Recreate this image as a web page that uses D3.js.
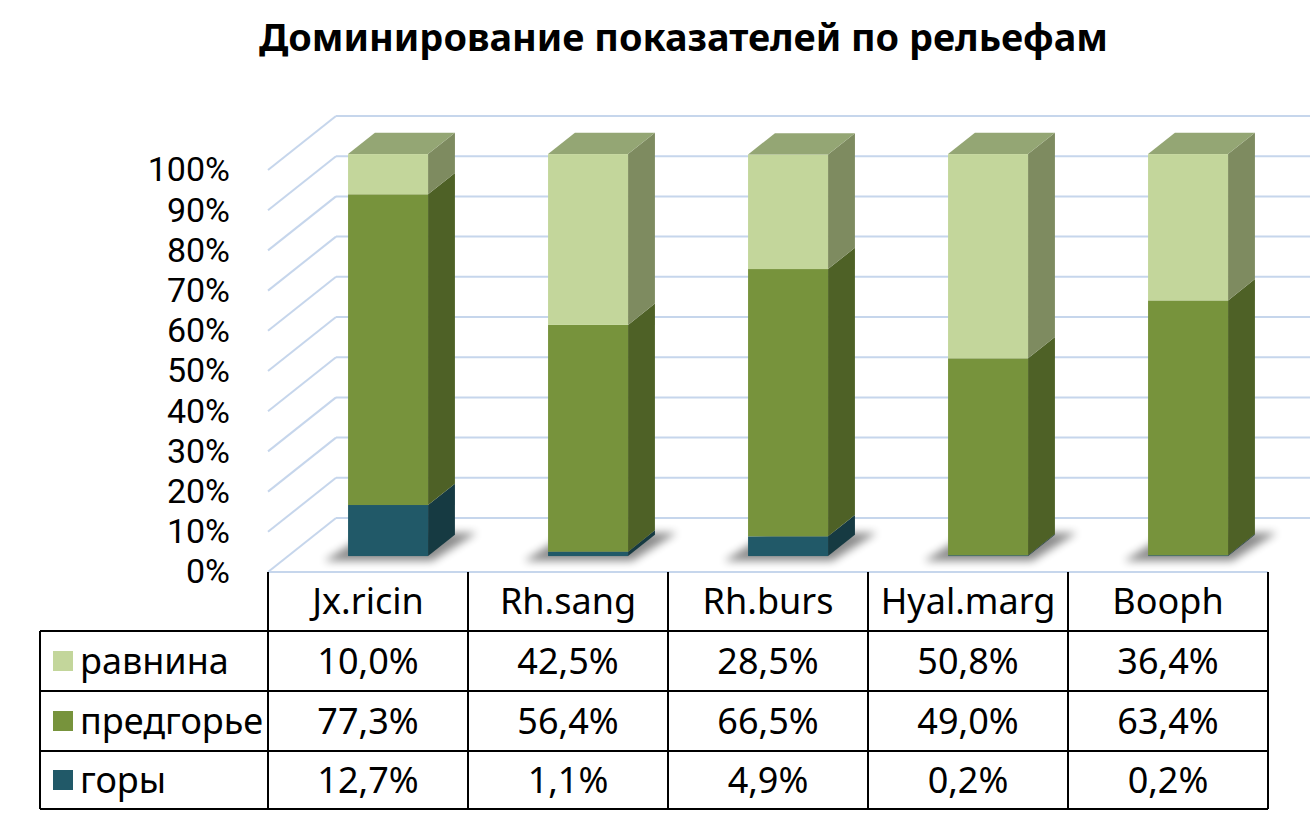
<!DOCTYPE html>
<html>
<head>
<meta charset="utf-8">
<script src="https://cdn.jsdelivr.net/npm/d3@7"></script>
<style>
  body { margin: 0; background: #fff; }
  svg { display: block; font-family: "Noto Sans", "Open Sans", sans-serif; }
</style>
</head>
<body>
<div id="chart"></div>
<script>
const title = 'Доминирование показателей по рельефам';
const categories = ['Jx.ricin', 'Rh.sang', 'Rh.burs', 'Hyal.marg', 'Booph'];
const seriesKeys = ['plain', 'foothill', 'mountains'];
const seriesNames = ['равнина', 'предгорье', 'горы'];
const plain = [10.0, 42.5, 28.5, 50.8, 36.4];
const foothill = [77.3, 56.4, 66.5, 49.0, 63.4];
const mountains = [12.7, 1.1, 4.9, 0.2, 0.2];
const yTicks = [0, 10, 20, 30, 40, 50, 60, 70, 80, 90, 100];

const width = 1310;
const height = 824;

// face colours: front, side, top
const colors = {
  plain: { front: '#c3d69b', side: '#7e8b60', top: '#94a674' },
  foothill: { front: '#77933c', side: '#4e6126', top: '#5f7a30' },
  mountains: { front: '#215968', side: '#163a42', top: '#1b4a56' },
};

const rows = categories.map((c, i) => ({
  cat: c, plain: plain[i], foothill: foothill[i], mountains: mountains[i],
}));

const x = d3.scaleBand().domain(categories).range([268, 1268]);
const y = d3.scaleLinear().domain([0, 100]).range([572, 170]);

// 3d projection: depth z (0 front plane .. 1 back wall)
const wall = { dx: 68, dy: -54 };
const off = (z) => [wall.dx * z, wall.dy * z];
const barZ0 = 0.295;
const barZ1 = 0.69;
const barW = 80;

const fmt = (v) => d3.format('.1f')(v).replace('.', ',') + '%';

const svg = d3.select('#chart')
  .append('svg')
  .attr('width', width)
  .attr('height', height);

const defs = svg.append('defs');
defs.append('filter')
  .attr('id', 'blur')
  .attr('x', '-50%').attr('y', '-50%')
  .attr('width', '200%').attr('height', '200%')
  .append('feGaussianBlur')
  .attr('stdDeviation', 4);

// title
svg.append('text')
  .attr('x', 259)
  .attr('y', 51)
  .attr('font-size', 38)
  .attr('font-weight', 'bold')
  .attr('fill', '#000')
  .attr('textLength', 849)
  .attr('lengthAdjust', 'spacingAndGlyphs')
  .text(title);

// walls / gridlines
const grid = svg.append('g')
  .attr('stroke', '#c6d6ec')
  .attr('stroke-width', 2)
  .attr('fill', 'none');

const [bx, by] = off(1);
grid.selectAll('.back')
  .data(yTicks)
  .join('line')
  .attr('x1', x.range()[0] + bx)
  .attr('x2', width)
  .attr('y1', (d) => y(d) + by)
  .attr('y2', (d) => y(d) + by);

grid.selectAll('.side')
  .data(yTicks)
  .join('line')
  .attr('x1', x.range()[0])
  .attr('x2', x.range()[0] + bx)
  .attr('y1', (d) => y(d))
  .attr('y2', (d) => y(d) + by);

grid.append('line')
  .attr('x1', x.range()[0])
  .attr('x2', x.range()[1])
  .attr('y1', y(0))
  .attr('y2', y(0));

// y axis
const yAxis = svg.append('g')
  .attr('transform', 'translate(230,0)')
  .call(d3.axisLeft(y)
    .tickValues(yTicks)
    .tickFormat((d) => d + '%')
    .tickSize(0)
    .tickPadding(0));
yAxis.select('.domain').remove();
yAxis.selectAll('text')
  .attr('font-size', 34)
  .attr('font-family', 'Roboto, sans-serif')
  .attr('fill', '#000');

// bars
const stack = d3.stack().keys(['mountains', 'foothill', 'plain']);
const series = stack(rows);

const [f0x, f0y] = off(barZ0);
const [f1x, f1y] = off(barZ1);
const ddx = f1x - f0x;
const ddy = f1y - f0y;

const barLeft = (c) => x(c) + x.bandwidth() / 2 - barW / 2 + f0x;

// shadows
svg.append('g')
  .selectAll('path')
  .data(categories)
  .join('path')
  .attr('filter', 'url(#blur)')
  .attr('fill', '#000')
  .attr('opacity', 0.45)
  .attr('d', (c) => {
    const xl = barLeft(c);
    const xr = xl + barW;
    const yb = y(0) + f0y;
    return `M${xl - 24},${yb + 5}L${xr + 4},${yb + 5}L${xr + ddx + 22},${yb + ddy - 2}`
      + `L${xl + ddx - 6},${yb + ddy - 2}Z`;
  });

const barG = svg.append('g');
series.forEach((s) => {
  const key = s.key;
  const g = barG.append('g');
  // right side
  g.selectAll('.side')
    .data(s)
    .join('path')
    .attr('fill', colors[key].side)
    .attr('d', (d) => {
      const xr = barLeft(d.data.cat) + barW;
      const yt = y(d[1]) + f0y;
      const yb = y(d[0]) + f0y;
      return `M${xr},${yb}L${xr + ddx},${yb + ddy}L${xr + ddx},${yt + ddy}L${xr},${yt}Z`;
    });
  // front
  g.selectAll('.front')
    .data(s)
    .join('rect')
    .attr('fill', colors[key].front)
    .attr('x', (d) => barLeft(d.data.cat))
    .attr('width', barW)
    .attr('y', (d) => y(d[1]) + f0y)
    .attr('height', (d) => y(d[0]) - y(d[1]));
});

// top face of each stacked bar
const topSeries = series[series.length - 1];
barG.append('g')
  .selectAll('path')
  .data(topSeries)
  .join('path')
  .attr('fill', colors[topSeries.key].top)
  .attr('d', (d) => {
    const xl = barLeft(d.data.cat);
    const yt = y(d[1]) + f0y;
    return `M${xl},${yt}L${xl + barW},${yt}L${xl + barW + ddx},${yt + ddy}L${xl + ddx},${yt + ddy}Z`;
  });

// data table
const rowTops = [572, 631, 691, 751, 809];
const tableLeft = 40;
const table = svg.append('g')
  .attr('stroke', '#000')
  .attr('stroke-width', 2);

table.selectAll('.h')
  .data(rowTops.slice(1))
  .join('line')
  .attr('x1', tableLeft)
  .attr('x2', x.range()[1])
  .attr('y1', (d) => d)
  .attr('y2', (d) => d);

const colEdges = categories.map((c) => x(c)).concat([x.range()[1]]);
table.selectAll('.v')
  .data(colEdges)
  .join('line')
  .attr('x1', (d) => d)
  .attr('x2', (d) => d)
  .attr('y1', rowTops[0])
  .attr('y2', rowTops[4]);

table.append('line')
  .attr('x1', tableLeft)
  .attr('x2', tableLeft)
  .attr('y1', rowTops[1])
  .attr('y2', rowTops[4]);

const txt = svg.append('g')
  .attr('font-size', 36)
  .attr('fill', '#000');

// header
txt.selectAll('.cat')
  .data(categories)
  .join('text')
  .attr('x', (c) => x(c) + x.bandwidth() / 2)
  .attr('y', (rowTops[0] + rowTops[1]) / 2)
  .attr('dy', '0.35em')
  .attr('text-anchor', 'middle')
  .text((c) => c);

const seriesData = { plain, foothill, mountains };
seriesKeys.forEach((key, r) => {
  const cy = (rowTops[r + 1] + rowTops[r + 2]) / 2;
  svg.append('rect')
    .attr('x', 53)
    .attr('y', cy - 10)
    .attr('width', 20)
    .attr('height', 20)
    .attr('fill', colors[key].front);
  txt.append('text')
    .attr('x', 80)
    .attr('y', cy)
    .attr('dy', '0.35em')
    .text(seriesNames[r]);
  txt.selectAll('.v' + key)
    .data(seriesData[key])
    .join('text')
    .attr('x', (d, i) => x(categories[i]) + x.bandwidth() / 2)
    .attr('y', cy)
    .attr('dy', '0.35em')
    .attr('text-anchor', 'middle')
    .text((d) => fmt(d));
});
</script>
</body>
</html>
